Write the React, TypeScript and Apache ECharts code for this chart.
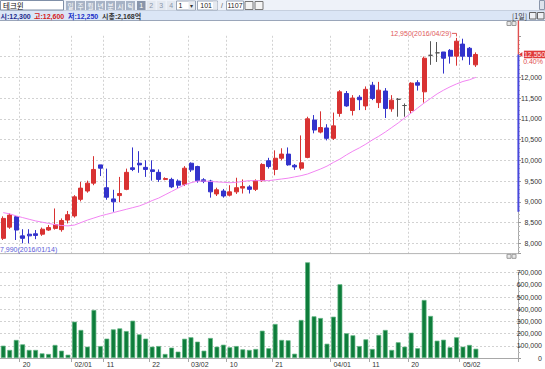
import React, { useEffect, useRef } from "react";
import * as echarts from "echarts";

// ---- data ----
const dates = [
  "01/15","01/18","01/19","01/20","01/21","01/22","01/25","01/26","01/27","01/28","01/29",
  "02/01","02/02","02/03","02/04","02/05","02/11","02/12","02/15","02/16","02/17","02/18","02/19","02/22","02/23","02/24","02/25","02/26","02/29",
  "03/02","03/03","03/04","03/07","03/08","03/09","03/10","03/11","03/14","03/15","03/16","03/17","03/18","03/21","03/22","03/23","03/24","03/25","03/28","03/29","03/30","03/31",
  "04/01","04/04","04/05","04/06","04/07","04/08","04/11","04/12","04/14","04/15","04/18","04/19","04/20","04/21","04/22","04/25","04/26","04/27","04/28","04/29",
  "05/02","05/03","05/04",
];
const opens = [
  8120,8390,8640,8180,8220,8230,8220,8320,8360,8330,8560,
  8660,9060,9260,9450,9890,9340,9070,9150,9300,9820,9930,9830,9770,9710,9540,9540,9500,9420,
  9930,9850,9530,9500,9190,9260,9160,9240,9330,9360,9300,9510,9990,9780,10050,10150,9880,9810,10070,10970,10680,10780,
  10530,11130,11610,11200,11520,11310,11810,11390,11670,11240,11470,11320,11200,11870,11650,12530,12590,12610,12650,12510,
  12800,12700,12300,
];
const closes = [
  8600,8680,8320,8120,8180,8190,8340,8380,8450,8550,8690,
  9120,9330,9450,9780,9810,9110,9000,9200,9710,9780,9890,9780,9730,9540,9560,9360,9400,9810,
  9770,9510,9490,9240,9290,9140,9240,9340,9370,9300,9510,9900,9850,10050,10150,9890,9840,9940,11000,10730,10790,10530,
  10830,11650,11310,11500,11460,11710,11490,11690,11250,11450,11470,11320,11860,11810,12460,12530,12590,12460,12510,12870,
  12510,12500,12550,
];
const lows = [
  8080,8350,8080,8000,8000,8100,8180,8300,8330,8280,8480,
  8620,9010,9220,9400,9620,9050,8760,8990,9280,9740,9700,9600,9510,9480,9520,9330,9330,9380,
  9720,9460,9450,9100,9140,9100,9130,9190,9200,9200,9260,9480,9800,9640,10000,9870,9770,9760,10050,10650,10650,10480,
  10490,11050,11290,11080,11210,11210,11450,11260,11020,11170,11050,11050,11130,11680,11390,12300,12370,12090,12330,12280,
  12410,12300,12250,
];
const highs = [
  8650,8720,8660,8340,8340,8320,8380,8440,8840,8600,8780,
  9160,9480,9510,10100,9890,9800,9290,9600,9800,10310,10220,10000,10000,9780,9590,9580,9540,9860,
  9950,9870,9570,9530,9340,9310,9400,9580,9540,9400,9540,9930,10060,10240,10290,10310,9910,10600,11050,11090,11180,10870,
  11150,11690,11670,11570,11570,11780,11890,11890,11740,11570,11500,11370,11880,11930,12500,12870,12850,12610,12680,12950,
  12930,12730,12600,
];
const ma20 = [
  8740,8710,8660,8620,8580,8540,8510,8480,8450,8430,8420,
  8440,8500,8560,8610,8660,8700,8740,8780,8820,8860,8900,8960,9030,9090,9170,9250,9330,9410,
  9460,9500,9500,9490,9480,9470,9460,9470,9490,9510,9510,9510,9510,9530,9550,9570,9600,9630,9670,9730,9790,9860,
  9950,10030,10130,10220,10300,10390,10490,10580,10680,10790,10900,11020,11140,11260,11380,11490,11600,11690,11770,11840,
  11900,11940,12000,
];
const volumes = [
  101000,66000,148000,112000,66000,66000,38000,33000,107000,60000,27000,
  298000,230000,93000,394000,98000,159000,235000,243000,221000,306000,194000,159000,93000,98000,33000,85000,52000,158000,
  170000,134000,60000,164000,93000,109000,88000,98000,71000,66000,74000,224000,80000,279000,148000,145000,35000,312000,785000,342000,328000,117000,
  339000,605000,203000,186000,98000,153000,74000,189000,230000,66000,129000,93000,208000,80000,476000,345000,142000,150000,88000,170000,
  93000,107000,76000,
];
const tickDates = ["01/20","02/01","02/11","02/22","03/02","03/10","03/21","04/01","04/11","04/20","05/02"];
const tickLabels = ["20","02/01","11","22","03/02","10","21","04/01","11","20","05/02"];
const periodHigh = { value: 12950, date: "2016/04/29", index: 70 };
const periodLow = { value: 7990, date: "2016/01/14" };
const rangeBarLow = 8760;
const stockName = "테크윈";
const marketCap = "시총:2,168억";
const blankSlots = ["", " ", "  ", "   ", "    ", "     "];

// ---- layout ----
const W = 545, H = 369;
const GL = -3.5, GW = 521.9;
const AX = GL + GW; // right axis x
const NARROW = "'Liberation Sans Narrow','Liberation Sans','Noto Sans CJK KR',sans-serif";
const KR = "'Noto Sans CJK KR','Liberation Sans',sans-serif";

const fmt = (v: number) => v.toLocaleString("en-US");
const gridLine = { color: "#d2d2d2", type: [2, 2] as number[], width: 1 };

function T(text: string, x: number, y: number, o: any = {}) {
  const align = o.align || "left";
  return {
    type: "text", x, y, silent: true, z: o.z ?? 50,
    style: {
      text, fill: o.fill || "#333", fontSize: o.size || 7, fontFamily: o.family || NARROW,
      fontWeight: o.weight || "normal", textAlign: align, align, textVerticalAlign: "middle", verticalAlign: "middle",
    },
  };
}
function R(x: number, y: number, w: number, h: number, fill: string, stroke?: string, z = 40) {
  return { type: "rect", silent: true, z, shape: { x, y, width: w, height: h }, style: { fill, stroke: stroke || null, lineWidth: stroke ? 1 : 0 } };
}
function L(x1: number, y1: number, x2: number, y2: number, stroke: string, w = 1, z = 40) {
  return { type: "line", silent: true, z, shape: { x1, y1, x2, y2 }, style: { stroke, lineWidth: w } };
}

export default function App() {
  const ref = useRef<HTMLDivElement>(null);
  useEffect(() => {
    document.body.style.margin = "0";
    const chart = echarts.init(ref.current!, null, { renderer: "svg" });
    const n = dates.length;
    const cats = [...dates, ...blankSlots];
    const isTick = (_i: number, v: string) => tickDates.indexOf(v) >= 0;
    const lastClose = closes[n - 1];
    const candleData = dates.map((_, i) => [opens[i], closes[i], lows[i], highs[i]]);

    chart.setOption({
      animation: false,
      backgroundColor: "#ffffff",
      grid: [
        { left: GL, width: GW, top: 35.8, height: 217.9 },
        { left: GL, width: GW, top: 272.7, height: 85.3 },
      ],
      xAxis: [
        {
          type: "category", gridIndex: 0, data: cats, boundaryGap: true,
          axisLine: { show: false }, axisTick: { show: false }, axisLabel: { show: false },
          splitLine: { show: true, interval: isTick, lineStyle: gridLine },
        },
        {
          type: "category", gridIndex: 1, data: cats, boundaryGap: true,
          axisLine: { show: true, lineStyle: { color: "#a8a8a8" } },
          axisTick: { show: true, interval: isTick, length: 4, lineStyle: { color: "#a8a8a8" } },
          axisLabel: {
            interval: isTick, align: "left", margin: 3, fontSize: 7, fontFamily: NARROW, color: "#333",
            formatter: (v: string) => { const k = tickDates.indexOf(v); return k >= 0 ? tickLabels[k] : ""; },
          },
          splitLine: { show: true, interval: isTick, lineStyle: gridLine },
        },
      ],
      yAxis: [
        {
          type: "value", gridIndex: 0, position: "right", min: 7750, max: 13000, splitNumber: 10,
          axisLine: { show: true, lineStyle: { color: "#a8a8a8" } },
          axisTick: { show: true, length: 3, lineStyle: { color: "#999" } },
          minorTick: { show: true, splitNumber: 5, length: 2, lineStyle: { color: "#bbb" } },
          axisLabel: {
            showMinLabel: false, showMaxLabel: false, align: "right", margin: 24,
            fontSize: 7, fontFamily: NARROW, color: "#333",
            formatter: (v: number) => (Math.abs(v - lastClose) < 150 ? "" : fmt(v)),
          },
          splitLine: { show: true, showMinLine: false, showMaxLine: false, lineStyle: gridLine },
        },
        {
          type: "value", gridIndex: 1, position: "right", min: 0, max: 700000, splitNumber: 7,
          axisLine: { show: true, lineStyle: { color: "#a8a8a8" } },
          axisTick: { show: true, length: 3, lineStyle: { color: "#999" } },
          minorTick: { show: true, splitNumber: 2, length: 2, lineStyle: { color: "#bbb" } },
          axisLabel: { align: "right", margin: 24, fontSize: 7, fontFamily: NARROW, color: "#333", formatter: (v: number) => fmt(v) },
          splitLine: { show: true, showMinLine: false, lineStyle: gridLine },
        },
      ],
      series: [
        {
          type: "candlestick", xAxisIndex: 0, yAxisIndex: 0, data: candleData, barWidth: 4.5,
          itemStyle: {
            color: "#d83232", color0: "#3333cc", borderColor: "#d83232", borderColor0: "#3333cc",
            borderColorDoji: "#555555", borderWidth: 1,
          },
        },
        {
          type: "line", xAxisIndex: 0, yAxisIndex: 0, data: ma20, symbol: "none", silent: true,
          lineStyle: { color: "#f284f2", width: 1 },
        },
        {
          type: "bar", xAxisIndex: 1, yAxisIndex: 1, data: volumes, barWidth: 4.8, clip: false,
          itemStyle: { color: "#0e7d3b", borderColor: "#5fb581", borderWidth: 0.7 },
        },
      ],
    });

    const px = (i: number, v: number) => chart.convertToPixel({ gridIndex: 0 }, [i, v]) as number[];
    const [, yClose] = px(n - 1, lastClose);
    const [xHi, yHi] = px(periodHigh.index, periodHigh.value);
    const [, yLo] = px(0, periodLow.value);
    const [, yRange] = px(0, rangeBarLow);
    const chg = ((lastClose - closes[n - 2]) / closes[n - 2]) * 100;

    const g: any[] = [];
    // toolbar row 1
    g.push(R(0, 0, W, 11, "#eef2f9"));
    g.push(L(0, 10.8, W, 10.8, "#b6c2d4"));
    g.push(R(0.5, 0.5, 63, 9.5, "#ffffff", "#8090a8"));
    g.push(T(stockName, 3, 5.5, { size: 7.5, family: KR, fill: "#111" }));
    ["일", "주", "월", "년", "분", "시", "틱"].forEach((s, k) => {
      g.push(R(66 + k * 10, 1, 9, 9, "#a7b3c6"));
      g.push(T(s, 70.5 + k * 10, 5.6, { size: 6.5, family: KR, fill: "#ffffff", align: "center" }));
    });
    ["1", "2", "3", "4"].forEach((s, k) => {
      g.push(R(137 + k * 10, 1, 8.5, 9, k === 0 ? "#8995aa" : "#e3e8f0"));
      g.push(T(s, 141.2 + k * 10, 5.6, { size: 7, fill: k === 0 ? "#ffffff" : "#8a96aa", align: "center" }));
    });
    g.push(R(176.5, 1, 19, 9, "#ffffff", "#9aa6b8"));
    g.push(T("1", 178.5, 5.6, { size: 7, fill: "#222" }));
    g.push(R(188.5, 1.5, 6.5, 8, "#e6eaf0"));
    g.push(T("▾", 191.7, 5.6, { size: 6, fill: "#333", align: "center" }));
    g.push(R(197.5, 1, 20, 9, "#ffffff", "#9aa6b8"));
    g.push(T("101", 212, 5.6, { size: 7, fill: "#222", align: "right" }));
    g.push(R(213, 1.5, 4.5, 8, "#e6eaf0"));
    g.push(T("/", 222, 5.6, { size: 7, fill: "#555", align: "center" }));
    g.push(R(226.5, 1, 17, 9, "#ffffff", "#9aa6b8"));
    g.push(T("1107", 227.5, 5.6, { size: 7, fill: "#222" }));
    g.push(R(245, 1.5, 8, 8, "#f4f4f4", "#777"));
    g.push(R(255, 1.5, 8, 8, "#f4f4f4", "#777"));
    g.push(R(539.5, 0.5, 5, 9, "#dde3ec", "#8a96aa"));
    // toolbar row 2
    g.push(R(0, 11, W, 9.5, "#dbe6f6"));
    g.push(L(0, 20.5, W, 20.5, "#9aa6ba"));
    g.push(T("시:" + fmt(opens[n - 1]), 0.5, 16, { size: 7, weight: "bold", fill: "#1c2a8c" }));
    g.push(T("고:" + fmt(highs[n - 1]), 34, 16, { size: 7, weight: "bold", fill: "#d42020" }));
    g.push(T("저:" + fmt(lows[n - 1]), 68, 16, { size: 7, weight: "bold", fill: "#2030c8" }));
    g.push(T(marketCap, 102, 16, { size: 7, weight: "bold", fill: "#333" }));
    g.push(T("[1일]", 527, 16, { size: 7, family: KR, fill: "#333", align: "right" }));
    g.push(R(529.5, 12.5, 6.5, 6.5, "#eef0f4", "#666"));
    g.push(R(537.5, 12.5, 6.5, 6.5, "#eef0f4", "#666"));
    // pane chrome
    g.push(L(0, 253.6, AX, 253.6, "#b4b4b4"));
    g.push(R(507, 21.5, 4, 4, "#e8e8e8", "#999"));
    g.push(R(512, 21.5, 4, 4, "#e8e8e8", "#999"));
    g.push(R(507, 254.3, 4, 4, "#e8e8e8", "#999"));
    g.push(R(512, 254.3, 4, 4, "#e8e8e8", "#999"));
    // right axis range bars
    g.push(L(AX, 20.5, AX, yClose, "#e05050", 1.4, 60));
    g.push(L(AX, yClose, AX, yRange, "#4848dd", 2, 60));
    // last-price box
    g.push({ type: "polygon", silent: true, z: 70, shape: { points: [[AX + 0.5, yClose], [AX + 4, yClose - 2.5], [AX + 4, yClose + 2.5]] }, style: { fill: "#e03a3a" } });
    g.push(R(AX + 5.5, yClose - 3.8, 21.5, 7.6, "#e03a3a", undefined, 70));
    g.push(T(fmt(lastClose), AX + 16.2, yClose, { size: 7, fill: "#ffe8e8", align: "center", z: 71 }));
    g.push(T(chg.toFixed(2) + "%", 543, yClose + 7.5, { size: 7, fill: "#e05050", align: "right", z: 71 }));
    // period high / low annotations
    g.push(T(fmt(periodHigh.value) + "(" + periodHigh.date + ")", xHi - 5, yHi - 4.5, { size: 7, fill: "#e05a5a", align: "right", z: 60 }));
    g.push({ type: "polyline", silent: true, z: 60, shape: { points: [[xHi - 4.5, yHi - 4.5], [xHi, yHi - 4.5], [xHi, yHi - 1.5]] }, style: { stroke: "#e05a5a", lineWidth: 1, fill: null } });
    g.push(T(fmt(periodLow.value) + "(" + periodLow.date + ")", 0, yLo + 5.5, { size: 7, fill: "#5a5ad8", z: 60 }));

    chart.setOption({ graphic: g });
    return () => chart.dispose();
  }, []);
  return <div ref={ref} style={{ width: W, height: H }} />;
}
